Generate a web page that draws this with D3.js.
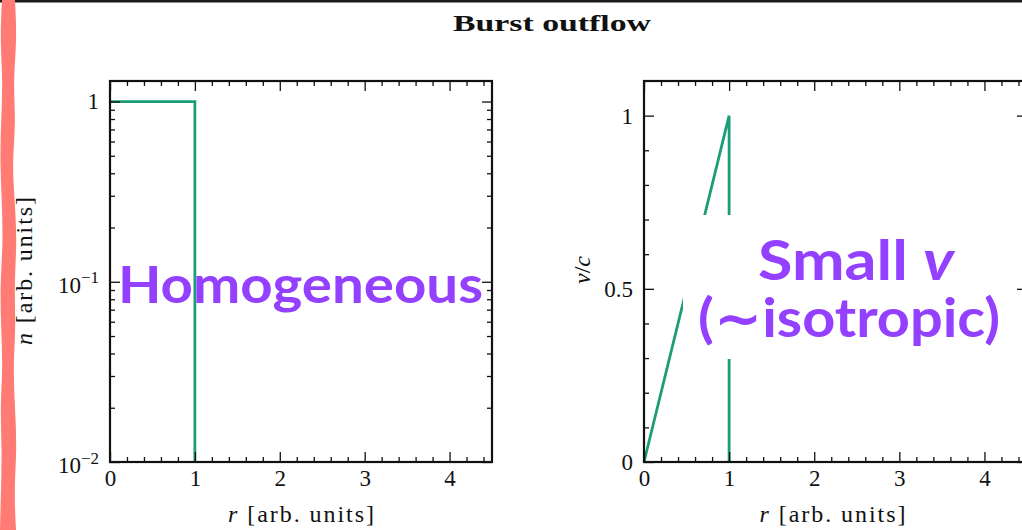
<!doctype html>
<html lang="en">
<head>
<meta charset="utf-8">
<script src="https://d3js.org/d3.v7.min.js"></script>
<style>
  html, body { margin: 0; padding: 0; background: #fff; overflow: hidden; }
  svg { display: block; }
  .tick text { font-family: "Liberation Serif", "DejaVu Serif", serif; font-size: 23px; fill: #111; }
  .tick line { stroke: #111; stroke-width: 1.3; }
</style>
</head>
<body>
<div id="chart"></div>
<script>
// ---- data ----
var rValues = [0, 1, 1];            // radius points, arb. units
var densityValues = [1, 1, 0.01];   // n(r): flat to r=1, then drops
var velocityValues = [0, 1, 0];     // v/c(r): linear rise to r=1, then drops
var xTicks = [0, 1, 2, 3, 4];
var densityTicks = [1, 0.1, 0.01];
var densityTickLabels = [["1", ""], ["10", "\u22121"], ["10", "\u22122"]];
var velocityTicks = [0, 0.5, 1];
var velocityTickLabels = ["0", "0.5", "1"];

var W = 1022, H = 530;
var green = "#1b9e77", purple = "#9441ff";

var svg = d3.select("#chart").append("svg").attr("width", W).attr("height", H);

// top dark border
svg.append("rect").attr("x", 0).attr("y", 0).attr("width", W).attr("height", 2.5).attr("fill", "#1c1c1c");

// title
svg.append("text")
  .attr("x", 552).attr("y", 31)
  .attr("text-anchor", "middle")
  .attr("font-family", "Liberation Serif, DejaVu Serif, serif")
  .attr("font-weight", "bold")
  .attr("font-size", 24)
  .attr("textLength", 198).attr("lengthAdjust", "spacingAndGlyphs")
  .attr("fill", "#111")
  .text("Burst outflow");

var plotTop = 81, plotBottom = 462;
var panels = [
  { x0: 110, x1: 492 },
  { x0: 644, x1: 1027 }
];

var minorX = d3.range(0, 4.51, 0.2).filter(function(d) { return Math.abs(d - Math.round(d)) > 1e-6; });

function frameAxes(g, p, x, y, majorY, minorY, labelFn) {
  // x axis bottom, major + minor
  g.append("g").attr("transform", "translate(0," + plotBottom + ")")
    .call(d3.axisBottom(x).tickValues(xTicks).tickSize(-10).tickPadding(8).tickFormat(d3.format("d")));
  g.append("g").attr("transform", "translate(0," + plotBottom + ")")
    .call(d3.axisBottom(x).tickValues(minorX).tickSize(-5).tickFormat(""));
  // x axis top
  g.append("g").attr("transform", "translate(0," + plotTop + ")")
    .call(d3.axisTop(x).tickValues(xTicks).tickSize(-10).tickFormat(""));
  g.append("g").attr("transform", "translate(0," + plotTop + ")")
    .call(d3.axisTop(x).tickValues(minorX).tickSize(-5).tickFormat(""));
  // y axis left
  var ly = g.append("g").attr("transform", "translate(" + p.x0 + ",0)")
    .call(d3.axisLeft(y).tickValues(majorY).tickSize(-10).tickPadding(11).tickFormat(""));
  labelFn(ly);
  g.append("g").attr("transform", "translate(" + p.x0 + ",0)")
    .call(d3.axisLeft(y).tickValues(minorY).tickSize(-5).tickFormat(""));
  // y axis right
  g.append("g").attr("transform", "translate(" + p.x1 + ",0)")
    .call(d3.axisRight(y).tickValues(majorY).tickSize(-10).tickFormat(""));
  g.append("g").attr("transform", "translate(" + p.x1 + ",0)")
    .call(d3.axisRight(y).tickValues(minorY).tickSize(-5).tickFormat(""));
  g.selectAll(".domain").remove();
  g.append("rect")
    .attr("x", p.x0).attr("y", plotTop)
    .attr("width", p.x1 - p.x0).attr("height", plotBottom - plotTop)
    .attr("fill", "none").attr("stroke", "#111").attr("stroke-width", 2.2);
}

function xLabel(g, cx, sym) {
  var t = g.append("text")
    .attr("x", cx).attr("y", 522)
    .attr("text-anchor", "middle")
    .attr("font-family", "Liberation Serif, DejaVu Serif, serif")
    .attr("font-size", 24).attr("fill", "#111")
    .attr("textLength", 146);
  t.append("tspan").attr("font-style", "italic").text(sym);
  t.append("tspan").text(" [arb. units]");
}

// ---- left panel: density (log) ----
var pL = panels[0];
var gL = svg.append("g");
var xL = d3.scaleLinear().domain([0, 4.5]).range([pL.x0, pL.x1]);
var yL = d3.scaleLog().domain([0.01, 1.3]).range([plotBottom, plotTop]);
var minorLog = [];
[0.01, 0.1, 1].forEach(function(dec) {
  d3.range(2, 10).forEach(function(m) { if (m * dec <= 1.3) minorLog.push(m * dec); });
});

gL.append("path")
  .datum(rValues.map(function(r, i) { return [r, densityValues[i]]; }))
  .attr("fill", "none").attr("stroke", green).attr("stroke-width", 2.8)
  .attr("d", d3.line().x(function(d) { return xL(d[0]); }).y(function(d) { return yL(d[1]); }));

frameAxes(gL, pL, xL, yL, densityTicks, minorLog, function(ax) {
  ax.selectAll(".tick").each(function(d, i) {
    var lab = densityTickLabels[i];
    var t = d3.select(this).append("text")
      .attr("x", -11).attr("dy", lab[1] ? "0.45em" : "0.32em")
      .attr("text-anchor", "end");
    t.append("tspan").text(lab[0]);
    if (lab[1]) t.append("tspan").attr("font-size", 17).attr("dy", "-0.55em").text(lab[1]);
  });
});

xLabel(gL, (pL.x0 + pL.x1) / 2, "r");
var yl = gL.append("text")
  .attr("transform", "translate(32,271) rotate(-90)")
  .attr("text-anchor", "middle")
  .attr("font-family", "Liberation Serif, DejaVu Serif, serif")
  .attr("font-size", 24).attr("fill", "#111")
  .attr("textLength", 148);
yl.append("tspan").attr("font-style", "italic").text("n");
yl.append("tspan").text(" [arb. units]");

// ---- right panel: velocity (linear) ----
var pR = panels[1];
var gR = svg.append("g");
var xR = d3.scaleLinear().domain([0, 4.5]).range([pR.x0, pR.x1]);
var yR = d3.scaleLinear().domain([0, 1.1]).range([plotBottom, plotTop]);
var minorLin = d3.range(0.1, 1.1, 0.1).filter(function(d) { return Math.abs(d * 2 - Math.round(d * 2)) > 1e-6; });

gR.append("path")
  .datum(rValues.map(function(r, i) { return [r, velocityValues[i]]; }))
  .attr("fill", "none").attr("stroke", green).attr("stroke-width", 2.8)
  .attr("d", d3.line().x(function(d) { return xR(d[0]); }).y(function(d) { return yR(d[1]); }));

frameAxes(gR, pR, xR, yR, velocityTicks, minorLin, function(ax) {
  ax.selectAll(".tick").append("text")
    .attr("x", -11).attr("dy", "0.32em").attr("text-anchor", "end")
    .text(function(d, i) { return velocityTickLabels[i]; });
});

xLabel(gR, (pR.x0 + pR.x1) / 2 - 3, "r");
var yr = gR.append("text")
  .attr("transform", "translate(590,270) rotate(-90)")
  .attr("text-anchor", "middle")
  .attr("font-family", "Liberation Serif, DejaVu Serif, serif")
  .attr("font-size", 24).attr("fill", "#111");
yr.append("tspan").attr("font-style", "italic").text("v");
yr.append("tspan").text("/");
yr.append("tspan").attr("font-style", "italic").text("c");

// ---- overlay annotations ----
svg.append("text")
  .attr("x", 118).attr("y", 303)
  .attr("font-family", "Lato, 'Open Sans', sans-serif").attr("font-weight", "bold")
  .attr("font-size", 52).attr("fill", purple)
  .attr("textLength", 365).attr("lengthAdjust", "spacingAndGlyphs")
  .text("Homogeneous");

svg.append("rect")
  .attr("x", 683).attr("y", 215).attr("width", 330).attr("height", 144)
  .attr("fill", "#fff");
var s1 = svg.append("text")
  .attr("x", 856).attr("y", 280).attr("text-anchor", "middle")
  .attr("font-family", "Lato, 'Open Sans', sans-serif").attr("font-weight", "bold")
  .attr("font-size", 56).attr("fill", purple)
  .attr("textLength", 196).attr("lengthAdjust", "spacingAndGlyphs");
s1.append("tspan").text("Small ");
s1.append("tspan").attr("font-style", "italic").text("v");
svg.append("text")
  .attr("x", 849).attr("y", 337).attr("text-anchor", "middle")
  .attr("font-family", "Lato, 'Open Sans', 'DejaVu Sans', sans-serif").attr("font-weight", "bold")
  .attr("font-size", 54).attr("fill", purple)
  .attr("textLength", 302).attr("lengthAdjust", "spacingAndGlyphs")
  .text("(\u223Cisotropic)");

// ---- wavy red stripe at the left edge ----
var waveR = [15, 17, 13, 16, 12, 15, 17, 14, 16, 13, 15, 17, 14, 16];
var waveL = [2, 0, 3, 1, 0, 2, 3, 0, 1, 3, 0, 2, 1, 0];
var stepY = H / (waveR.length - 1);
var area = d3.area()
  .curve(d3.curveBasis)
  .y(function(d, i) { return i * stepY; })
  .x0(function(d, i) { return waveL[i]; })
  .x1(function(d) { return d; });
svg.append("path").datum(waveR).attr("d", area).attr("fill", "#ff7b73");
</script>
</body>
</html>
